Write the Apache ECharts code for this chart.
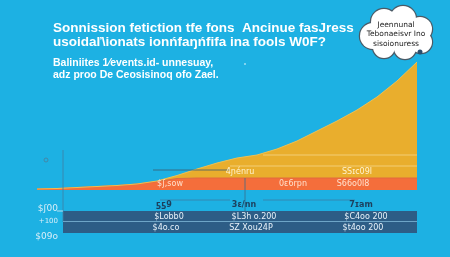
<!DOCTYPE html>
<html><head><meta charset="utf-8">
<script src="https://cdn.jsdelivr.net/npm/echarts@6/dist/echarts.min.js"></script>
<style>html,body{margin:0;padding:0;background:#1db1e3;}#c{width:450px;height:257px;}</style>
</head><body><div id="c"></div>
<script>
// ---- data ----
const categories = ['2005','2006','2007','2008','2009','2010','2011','2012','2013','2014','2015','2016','2017','2018','2019','2020','2021','2022','2023','2024'];
const orangeValues = [1,1.5,2.5,3.5,4.5,6,8.5,11.5,12,12,12,12,12,12,12,12,12,12,12,12];
const yellowValues = [0,0,0,0,0,0,0,0.5,3,9,15,20,23,29,37,47,57,68,81,97,116].slice(0,20);
const titleLines = ['Sonnission fetiction tfe fons  Ancinue fasJress','usoidaľ\\ionats ionńfaŋńfifa ina fools W0F?'];
const subtitleLines = ['Baliniites 1⁄events.id- unnesuay,','adz proo De Ceosisinoq ofo Zael.'];
const cloudLines = ['Jeennunal','Tebonaeisvr Ino','sisoionuress'];
const yellowLabels = ['4ɲénru','SSɪc09l'];
const orangeLabels = ['$ʃ,sow','0ɛ6rpn','S66o0l8'];
const tableHeaders = ['ƽƽ9','3ɛ/nn','7ɪam'];
const tableRow1 = ['$Lobb0','$L3h o.200','$C4oo 200'];
const tableRow2 = ['$4o.co','SZ Xou24P','$t4oo 200'];
const tableSideLabels = ['$ʃ00','+100','$09o'];

// fix yellow: align to categories
const yellowSeries = [0,0,0,0,0,0,0,0.5,3,9,15,20,23,29,37,47,57,68,81,97].map((v,i)=>v);
yellowSeries[19] = 116; yellowSeries[18]=97; yellowSeries[17]=81; yellowSeries[16]=68; yellowSeries[15]=57; yellowSeries[14]=47; yellowSeries[13]=37; yellowSeries[12]=29; yellowSeries[11]=23; yellowSeries[10]=20; yellowSeries[9]=15; yellowSeries[8]=9; yellowSeries[7]=3; yellowSeries[6]=0.5;

const chart = echarts.init(document.getElementById('c'), null, {renderer:'canvas'});
const W = '#ffffff';
const g = [];
// title
titleLines.forEach((t,i)=>g.push({type:'text',left:53,top:21+i*14.5,style:{text:t,fill:W,font:'bold 13.5px "Liberation Sans", Arial, sans-serif'}}));
subtitleLines.forEach((t,i)=>g.push({type:'text',left:53,top:58+i*12,style:{text:t,fill:W,font:'bold 10.5px "Liberation Sans", Arial, sans-serif'}}));
g.push({type:'circle',shape:{cx:245,cy:64,r:0.8},style:{fill:W}});

// cloud
const circles = [[373,36,13],[384,22,13],[403,19,13],[420,29,12],[421,42,11],[405,48,11],[384,47,11],[396,33,17]];
circles.forEach(c=>g.push({type:'circle',z:10,shape:{cx:c[0],cy:c[1],r:c[2]},style:{fill:'#fff',stroke:'#4a5a66',lineWidth:2.4}}));
circles.forEach(c=>g.push({type:'circle',z:11,shape:{cx:c[0],cy:c[1],r:c[2]},style:{fill:'#fff'}}));
g.push({type:'circle',z:12,shape:{cx:420,cy:52,r:2.5},style:{fill:'#2a4e6e'}});
cloudLines.forEach((t,i)=>g.push({type:'text',z:13,x:396,y:25+i*9.5,style:{text:t,fill:'#222',font:'7.5px "DejaVu Sans", sans-serif',textAlign:'center',textVerticalAlign:'middle'}}));

// decoration lines and circle
g.push({type:'circle',shape:{cx:46,cy:160,r:2},style:{fill:'none',stroke:'#4a7d9a',lineWidth:0.8}});
g.push({type:'line',z:5,shape:{x1:63,y1:150,x2:63,y2:222},style:{stroke:'#3f7fa3',lineWidth:0.8}});
g.push({type:'line',z:5,shape:{x1:245,y1:178,x2:245,y2:222},style:{stroke:'#3b6c8c',lineWidth:0.8}});
g.push({type:'line',z:5,shape:{x1:153,y1:170,x2:230,y2:170},style:{stroke:'#3b5a6e',lineWidth:0.8}});
g.push({type:'line',z:5,shape:{x1:263,y1:155,x2:417,y2:155},style:{stroke:'rgba(255,240,200,0.6)',lineWidth:0.8}});
g.push({type:'line',z:5,shape:{x1:230,y1:166,x2:417,y2:166},style:{stroke:'rgba(255,240,200,0.6)',lineWidth:0.8}});
g.push({type:'line',z:5,shape:{x1:160,y1:200,x2:230,y2:200},style:{stroke:'#3a7ea6',lineWidth:0.8}});
g.push({type:'line',z:5,shape:{x1:263,y1:200,x2:355,y2:200},style:{stroke:'#3a7ea6',lineWidth:0.8}});

// area labels
const yl = [[240,172],[357,172]];
yellowLabels.forEach((t,i)=>g.push({type:'text',z:6,x:yl[i][0],y:yl[i][1],style:{text:t,fill:'#fff3d0',font:'8px "DejaVu Sans", sans-serif',textAlign:'center',textVerticalAlign:'middle'}}));
const ol = [[170,184],[293,184],[353,184]];
orangeLabels.forEach((t,i)=>g.push({type:'text',z:6,x:ol[i][0],y:ol[i][1],style:{text:t,fill:'#ffe0cc',font:'8px "DejaVu Sans", sans-serif',textAlign:'center',textVerticalAlign:'middle'}}));

// table
g.push({type:'rect',z:4,shape:{x:63,y:211,width:354,height:22},style:{fill:'#2d5d86'}});
g.push({type:'line',z:5,shape:{x1:63,y1:221.5,x2:417,y2:221.5},style:{stroke:'#7fb8d8',lineWidth:0.8}});
const colX = [165,250,362];
tableHeaders.forEach((t,i)=>g.push({type:'text',z:6,x:colX[i]-1+(i==1?-5:0),y:205,style:{text:t,fill:'#1d3f5c',font:'bold 8px "DejaVu Sans", sans-serif',textAlign:'center',textVerticalAlign:'middle'}}));
tableRow1.forEach((t,i)=>g.push({type:'text',z:6,x:colX[i]+4,y:216.5,style:{text:t,fill:'#e8f2fa',font:'8px "DejaVu Sans", sans-serif',textAlign:'center',textVerticalAlign:'middle'}}));
tableRow2.forEach((t,i)=>g.push({type:'text',z:6,x:colX[i]+1,y:228,style:{text:t,fill:'#e8f2fa',font:'8px "DejaVu Sans", sans-serif',textAlign:'center',textVerticalAlign:'middle'}}));
const sy = [209,221,237];
tableSideLabels.forEach((t,i)=>g.push({type:'text',z:6,x:58,y:sy[i],style:{text:t,fill:'#d8eef8',font:(i==1?'7px':'9px')+' "DejaVu Sans", sans-serif',textAlign:'right',textVerticalAlign:'middle'}}));
g.push({type:'line',z:5,shape:{x1:57,y1:211,x2:63,y2:211},style:{stroke:'#d8eef8',lineWidth:0.8}});

chart.setOption({
  backgroundColor:'#1db1e3',
  animation:false,
  grid:{left:37,right:33,top:60,bottom:67},
  xAxis:{type:'category',data:categories,boundaryGap:false,show:false},
  yAxis:{type:'value',min:0,max:130,show:false},
  series:[
    {type:'line',stack:'s',data:orangeValues,symbol:'none',lineStyle:{width:1,color:'#e06a3e'},areaStyle:{color:'#f46e3b',opacity:1},itemStyle:{color:'#f46e3b'}},
    {type:'line',stack:'s',data:yellowSeries,symbol:'none',lineStyle:{width:1,color:'#f0c050'},areaStyle:{color:'#e9ae2d',opacity:1},itemStyle:{color:'#e9ae2d'}}
  ],
  graphic:g
});
</script></body></html>
